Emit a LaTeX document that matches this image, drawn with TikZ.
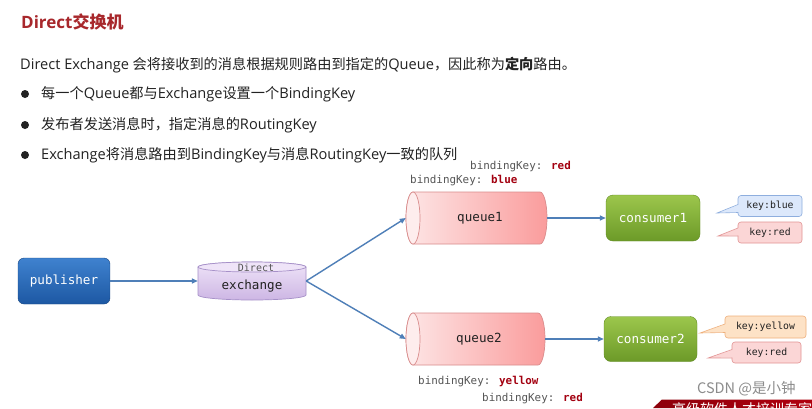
\documentclass[tikz,border=0pt]{standalone}
\usepackage{fontspec}
\newfontfamily\cjk{Noto Sans CJK SC}
\newfontfamily\latf{Open Sans}
\newfontfamily\mono{DejaVu Sans Mono}
\newcommand{\lat}[1]{{\latf\fontsize{14.6}{16}\selectfont #1}}
\usetikzlibrary{arrows.meta}
\definecolor{titlered}{HTML}{A8282C}
\definecolor{bodytext}{HTML}{222222}
\definecolor{linkblue}{HTML}{4F7FB8}
\definecolor{keygray}{HTML}{555555}
\definecolor{keyred}{HTML}{A30010}
\definecolor{qlight}{HTML}{FDE6E6}
\definecolor{qdark}{HTML}{FA9C9C}
\definecolor{qline}{HTML}{D98C8C}
\definecolor{exlight}{HTML}{EFE4F8}
\definecolor{exdark}{HTML}{CDB6E4}
\definecolor{exline}{HTML}{A690C8}
\definecolor{publight}{HTML}{3F82CF}
\definecolor{pubdark}{HTML}{1D58A3}
\definecolor{conlight}{HTML}{9CC64C}
\definecolor{condark}{HTML}{6C9A28}
\definecolor{bluefill}{HTML}{DCE8FB}
\definecolor{blueline}{HTML}{8EAEDE}
\definecolor{redfill}{HTML}{FBD6D6}
\definecolor{redline}{HTML}{E29494}
\definecolor{yelfill}{HTML}{FDE2C6}
\definecolor{yelline}{HTML}{EFB07C}
\definecolor{bandred}{HTML}{B0000E}
\tikzset{
  txt/.style={inner sep=0pt, anchor=west, text=bodytext, font=\cjk\fontsize{14.2}{16}\selectfont},
  link/.style={draw=linkblue, line width=1.4pt, -{Triangle[length=6pt,width=5pt]}},
  monolabel/.style={inner sep=0pt, font=\mono\fontsize{12.6}{14}\selectfont},
  bkey/.style={inner sep=0pt, anchor=west, text=keygray, font=\mono\fontsize{10.9}{12}\selectfont},
  callout/.style={rounded corners=3pt, line width=0.6pt, inner sep=0pt, text=bodytext, font=\mono\fontsize{9.8}{11}\selectfont},
  boxnode/.style={rounded corners=6pt, text=white, monolabel},
}
\begin{document}
\begin{tikzpicture}[x=1pt,y=1pt]
\useasboundingbox[fill=white] (0,0) rectangle (812,-408);

% header text
\node[txt, text=titlered, font=\cjk\fontsize{17}{19}\selectfont\bfseries] (title) at (21,-22) {{\latf\bfseries Direct}交换机};
\node[txt] (intro) at (20,-65) {\lat{Direct Exchange }会将接收到的消息根据规则路由到指定的\lat{Queue}，因此称为{\bfseries 定向}路由。};
\fill[bodytext] (25,-94) circle[radius=4];
\node[txt] (b1) at (41,-94) {每一个\lat{Queue}都与\lat{Exchange}设置一个\lat{BindingKey}};
\fill[bodytext] (25,-125) circle[radius=4];
\node[txt] (b2) at (41,-125) {发布者发送消息时，指定消息的\lat{RoutingKey}};
\fill[bodytext] (25,-155) circle[radius=4];
\node[txt] (b3) at (41,-155) {\lat{Exchange}将消息路由到\lat{BindingKey}与消息\lat{RoutingKey}一致的队列};

% publisher
\node[boxnode, top color=publight, bottom color=pubdark, draw=pubdark!80!black, line width=0.4pt,
      minimum width=92, minimum height=46] (pub) at (64,-281) {publisher};

% exchange cylinder
\path[top color=exlight, bottom color=exdark, draw=exline, line width=0.7pt]
  (198,-267) -- (198,-295) arc[start angle=180, end angle=360, x radius=54, y radius=5]
  -- (306,-267) arc[start angle=0, end angle=180, x radius=54, y radius=5] -- cycle;
\draw[exline, line width=0.7pt, fill=exlight] (252,-267) ellipse[x radius=54, y radius=5];
\node[inner sep=0pt, minimum width=108, minimum height=38] (ex) at (252,-281) {};
\node[inner sep=0pt, text=keygray, font=\mono\fontsize{10}{11}\selectfont] (exdirect) at (256,-268) {Direct};
\node[monolabel, text=bodytext] (exname) at (252,-286) {exchange};

% queue1 cylinder
\path[left color=qlight, right color=qdark, draw=qline, line width=0.7pt]
  (413,-192) -- (540,-192) arc[start angle=90, end angle=-90, x radius=7, y radius=26]
  -- (413,-244) arc[start angle=270, end angle=90, x radius=7, y radius=26] -- cycle;
\draw[qline, line width=0.7pt, fill=qlight!70!white] (413,-218) ellipse[x radius=7, y radius=26];
\node[inner sep=0pt, minimum width=141, minimum height=52] (q1) at (476.5,-218) {};
\node[monolabel, text=bodytext] (q1name) at (480,-218) {queue1};

% queue2 cylinder
\path[left color=qlight, right color=qdark, draw=qline, line width=0.7pt]
  (413,-313) -- (538,-313) arc[start angle=90, end angle=-90, x radius=7, y radius=26]
  -- (413,-365) arc[start angle=270, end angle=90, x radius=7, y radius=26] -- cycle;
\draw[qline, line width=0.7pt, fill=qlight!70!white] (413,-339) ellipse[x radius=7, y radius=26];
\node[inner sep=0pt, minimum width=139, minimum height=52] (q2) at (475.5,-339) {};
\node[monolabel, text=bodytext] (q2name) at (479,-339) {queue2};

% consumers
\node[boxnode, top color=conlight, bottom color=condark, draw=condark!90!black, line width=0.4pt,
      minimum width=94, minimum height=46, rounded corners=7pt] (c1) at (653,-218) {consumer1};
\node[boxnode, top color=conlight, bottom color=condark, draw=condark!90!black, line width=0.4pt,
      minimum width=93, minimum height=45, rounded corners=7pt] (c2) at (650.5,-339) {consumer2};

% connectors
\draw[link] (pub.east) -- (ex.west);
\draw[link] (ex.east) -- (q1.west);
\draw[link] (ex.east) -- (q2.west);
\draw[link] (q1.east) -- (c1.west);
\draw[link] (q2.east) -- (c2.west);

% callouts
\node[callout, fill=bluefill, draw=blueline, minimum width=64, minimum height=21] (kb) at (770,-206) {key:blue};
\fill[bluefill] (738.8,-204.5) -- (717,-213) -- (738.8,-212) -- cycle;
\draw[blueline, line width=0.6pt] (738,-204.5) -- (717,-213) -- (738,-212.5);

\node[callout, fill=redfill, draw=redline, minimum width=64, minimum height=21] (kr1) at (770,-232.5) {key:red};
\fill[redfill] (738.8,-228) -- (718,-236) -- (738.8,-235.5) -- cycle;
\draw[redline, line width=0.6pt] (738,-228) -- (718,-236) -- (738,-236);

\node[callout, fill=yelfill, draw=yelline, minimum width=81, minimum height=22] (ky) at (765.5,-327) {key:yellow};
\fill[yelfill] (725.8,-324) -- (700,-333) -- (725.8,-332) -- cycle;
\draw[yelline, line width=0.6pt] (725,-324) -- (700,-333) -- (725,-332.5);

\node[callout, fill=redfill, draw=redline, minimum width=69, minimum height=21] (kr2) at (766.5,-352.5) {key:red};
\fill[redfill] (732.8,-349.5) -- (708,-358) -- (732.8,-357.5) -- cycle;
\draw[redline, line width=0.6pt] (732,-349.5) -- (708,-358) -- (732,-358);

% binding keys
\node[bkey] (bk1) at (470,-167) {bindingKey: \textcolor{keyred}{\bfseries red}};
\node[bkey] (bk2) at (410,-181) {bindingKey: \textcolor{keyred}{\bfseries blue}};
\node[bkey] (bk3) at (418,-382) {bindingKey: \textcolor{keyred}{\bfseries yellow}};
\node[bkey] (bk4) at (482,-399) {bindingKey: \textcolor{keyred}{\bfseries red}};

% watermark and band
\node[inner sep=0pt, anchor=west, text=black!45, font=\cjk\fontsize{14.5}{16}\selectfont] (wm) at (697,-389) {CSDN @是小钟};
\begin{scope}
\clip (0,0) rectangle (812,-408);
\path[left color=bandred!80!black, right color=bandred] (653,-408) -- (662,-399.5) -- (812,-399.5) -- (812,-408) -- cycle;
\node[inner sep=0pt, anchor=west, text=white, font=\cjk\fontsize{14}{16}\selectfont] (band) at (672,-409) {高级软件人才培训专家};
\end{scope}
\end{tikzpicture}
\end{document}
